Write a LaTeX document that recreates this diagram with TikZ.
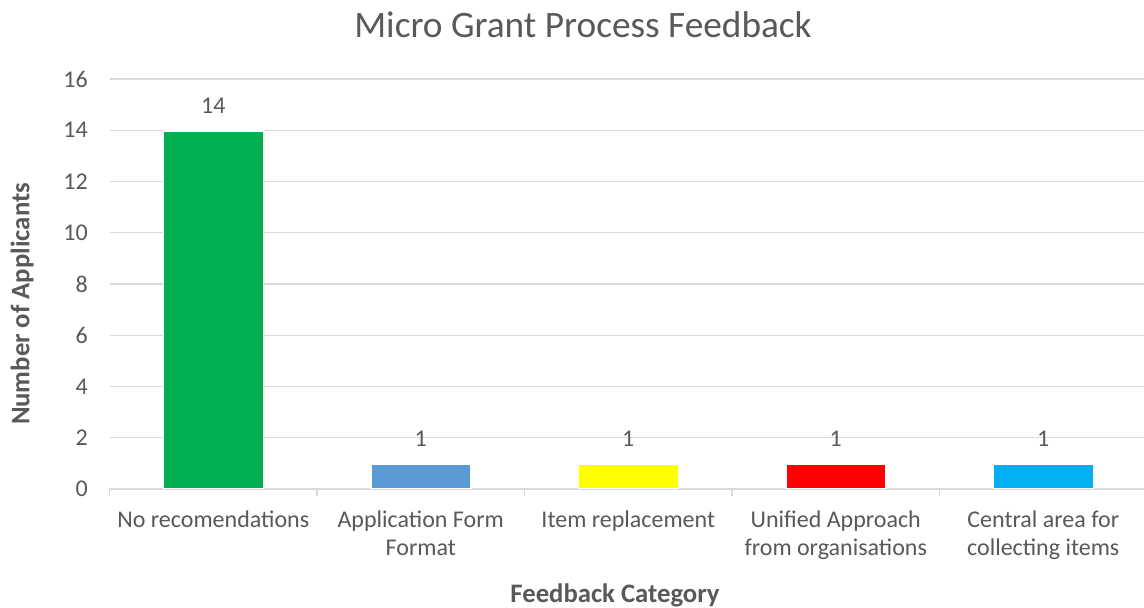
\documentclass[tikz,border=0pt]{standalone}
\usepackage{fontspec}
\setmainfont{Carlito}
\definecolor{txt}{HTML}{595959}
\definecolor{grid}{HTML}{D9D9D9}
\definecolor{cgreen}{HTML}{00B050}
\definecolor{cblue}{HTML}{5B9BD5}
\definecolor{cyellow}{HTML}{FFFF00}
\definecolor{cred}{HTML}{FF0000}
\definecolor{ccyan}{HTML}{00B0F0}
\tikzset{
  gridline/.style={draw=grid, line width=1.3pt},
  bar/.style={draw=white, line width=1.5pt},
  ticklab/.style={text=txt, font=\fontsize{24}{28}\selectfont, anchor=east, inner sep=0pt},
  catlab/.style={text=txt, font=\fontsize{24}{28}\selectfont, align=center, anchor=north, inner sep=0pt},
  datalab/.style={text=txt, font=\fontsize{24}{28}\selectfont, anchor=south, inner sep=0pt},
  axtitle/.style={text=txt, font=\bfseries\fontsize{26.7}{30}\selectfont, inner sep=0pt},
  charttitle/.style={text=txt, font=\fontsize{37.3}{42}\selectfont, inner sep=0pt}
}
\begin{document}
\begin{tikzpicture}[x=1pt,y=-1pt]
\useasboundingbox (0,0) rectangle (1144,608);
\fill[white] (0,0) rectangle (1144,608);
% gridlines
\foreach \v in {2,4,...,16} {
  \draw[gridline] (109.5,{489-25.625*\v}) -- (1144,{489-25.625*\v});
}
% axis
\draw[gridline] (109.5,489) -- (1144,489);
\foreach \k in {0,...,4} {
  \draw[gridline] ({109.5+207.5*\k},489) -- ({109.5+207.5*\k},496);
}
% y tick labels
\foreach \v in {0,2,...,16} {
  \node[ticklab] (y\v) at (88,{489-25.625*\v}) {\v};
}
% bars
\filldraw[bar, fill=cgreen]  (163.25,488.5) rectangle (263.25,131);
\filldraw[bar, fill=cblue]   (370.75,488.5) rectangle (470.75,464.2);
\filldraw[bar, fill=cyellow] (578.25,488.5) rectangle (678.25,464.2);
\filldraw[bar, fill=cred]    (785.75,488.5) rectangle (885.75,464.2);
\filldraw[bar, fill=ccyan]   (993.25,488.5) rectangle (1093.25,464.2);
% data labels
\node[datalab] (d1) at (213.25,114) {14};
\node[datalab] (d2) at (420.75,447) {1};
\node[datalab] (d3) at (628.25,447) {1};
\node[datalab] (d4) at (835.75,447) {1};
\node[datalab] (d5) at (1043.25,447) {1};
% category labels
\node[catlab] (c1) at (213.25,511) {No recomendations};
\node[catlab] (c2) at (420.75,511) {Application Form\\Format};
\node[catlab] (c3) at (628.25,511) {Item replacement};
\node[catlab] (c4) at (835.75,511) {Unified Approach\\from organisations};
\node[catlab] (c5) at (1043.25,511) {Central area for\\collecting items};
% titles
\node[charttitle] (title) at (583,25) {Micro Grant Process Feedback};
\node[axtitle] (xt) at (615,595.5) {Feedback Category};
\node[axtitle, rotate=90] (yt) at (22,304) {Number of Applicants};
\end{tikzpicture}
\end{document}
